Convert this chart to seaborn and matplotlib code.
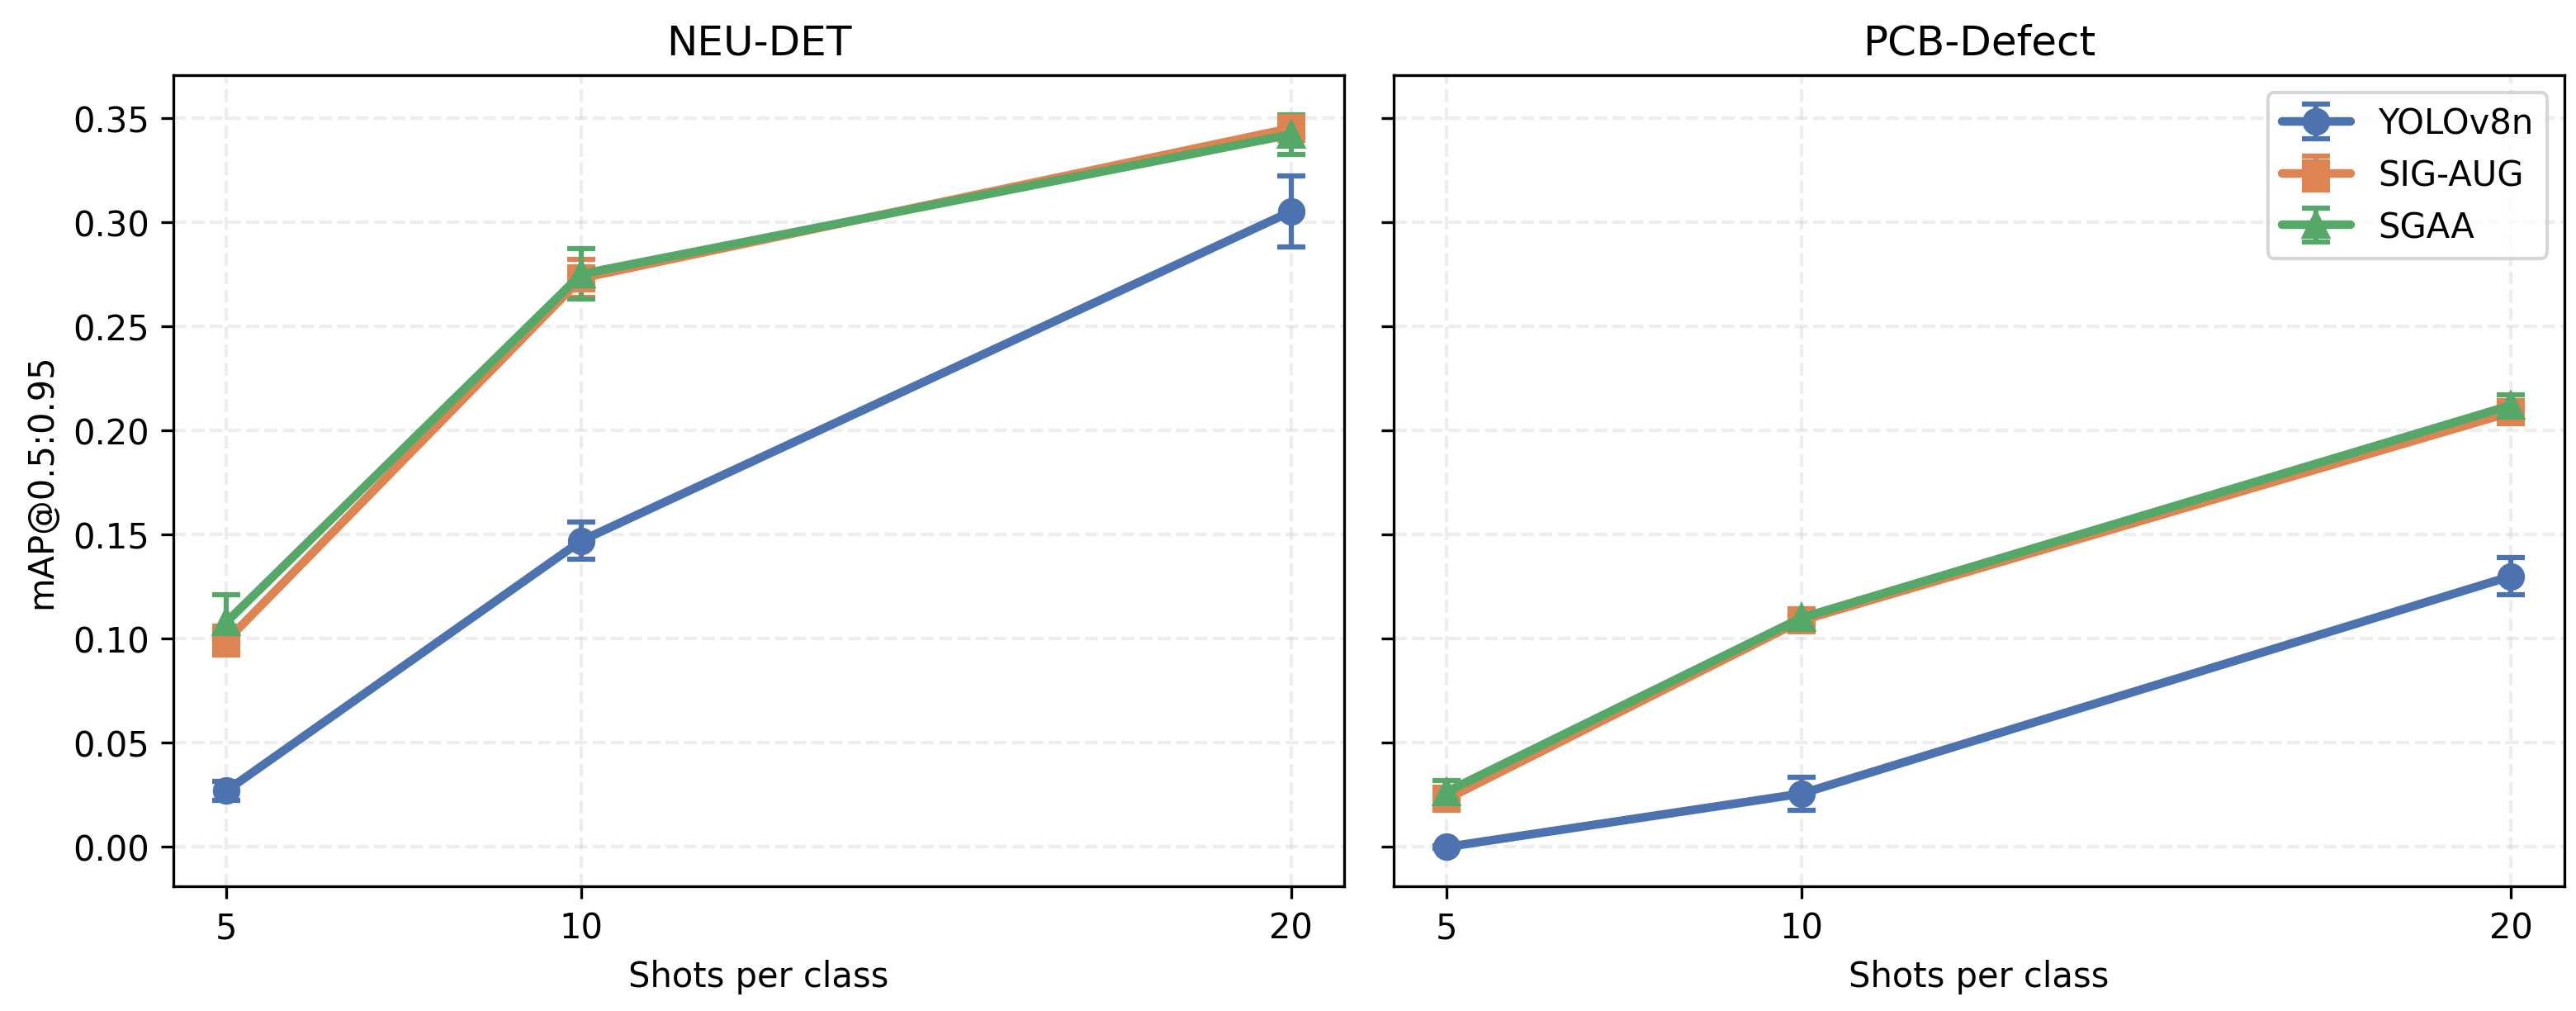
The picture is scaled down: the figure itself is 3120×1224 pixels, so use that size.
import matplotlib
matplotlib.use("Agg")
import matplotlib.pyplot as plt
import seaborn as sns
import numpy as np

shots = [5, 10, 20]
methods = ["YOLOv8n", "SIG-AUG", "SGAA"]
markers = ["o", "s", "^"]

# NEU-DET
neu_yolo = [0.027, 0.147, 0.305]
neu_yolo_err = [0.0045, 0.009, 0.017]
neu_sig = [0.099, 0.273, 0.345]
neu_sig_err = [0.007, 0.009, 0.006]
neu_sgaa = [0.108, 0.275, 0.342]
neu_sgaa_err = [0.013, 0.012, 0.0095]

# PCB-Defect
pcb_yolo = [0.000, 0.0256, 0.130]
pcb_yolo_err = [0.0005, 0.008, 0.009]
pcb_sig = [0.023, 0.1087, 0.2087]
pcb_sig_err = [0.004, 0.002, 0.004]
pcb_sgaa = [0.0265, 0.110, 0.212]
pcb_sgaa_err = [0.0055, 0.002, 0.005]

titles = ["NEU-DET", "PCB-Defect"]
datasets = [
    [(neu_yolo, neu_yolo_err), (neu_sig, neu_sig_err), (neu_sgaa, neu_sgaa_err)],
    [(pcb_yolo, pcb_yolo_err), (pcb_sig, pcb_sig_err), (pcb_sgaa, pcb_sgaa_err)],
]

sns.set_theme(style="ticks", context="notebook", rc={
    "xtick.major.size": 3.5, "ytick.major.size": 3.5,
    "xtick.major.width": 0.8, "ytick.major.width": 0.8,
    "xtick.major.pad": 3.5, "ytick.major.pad": 3.5,
    "axes.linewidth": 0.8, "axes.labelpad": 4.0,
    "text.color": "black", "axes.labelcolor": "black",
    "xtick.color": "black", "ytick.color": "black",
    "axes.edgecolor": "black",
})
plt.rcParams["font.family"] = ["DejaVu Sans"]
palette = sns.color_palette("deep")

fig, axes = plt.subplots(1, 2, figsize=(10.4, 4.0833), dpi=300, sharey=True)
fig.subplots_adjust(left=0.0673, right=0.9955, top=0.925, bottom=0.123, wspace=0.042)

for ax, title, data in zip(axes, titles, datasets):
    for i, (name, (vals, errs)) in enumerate(zip(methods, data)):
        ax.errorbar(shots, vals, yerr=errs, label=name, color=palette[i],
                    marker=markers[i], markersize=7, linewidth=2.5,
                    capsize=4, elinewidth=1.5, capthick=1.5)
    ax.set_title(title, fontsize=12)
    ax.set_xlabel("Shots per class", fontsize=10)
    ax.set_xticks(shots)
    ax.grid(True, linestyle="--", alpha=0.35)
    ax.tick_params(labelsize=10)
    for sp in ax.spines.values():
        sp.set_visible(True)

axes[0].set_ylabel("mAP@0.5:0.95", fontsize=10)
axes[0].set_ylim(-0.019, 0.3705)
axes[1].legend(loc="upper right", fontsize=10)

fig.savefig("out.png", dpi=300)
